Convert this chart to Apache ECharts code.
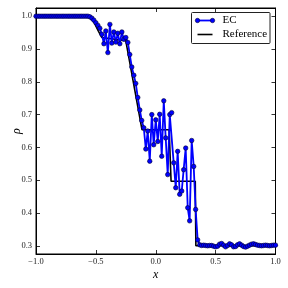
<!DOCTYPE html>
<html>
<head>
<meta charset="utf-8">
<script src="https://cdn.jsdelivr.net/npm/echarts@6/dist/echarts.min.js"></script>
<style>html,body{margin:0;padding:0;background:#fff}#c{width:288px;height:288px}</style>
</head>
<body>
<div id="c"></div>
<script>
var ecX = [-1.000,-0.983,-0.967,-0.950,-0.933,-0.917,-0.900,-0.883,-0.867,-0.850,
-0.833,-0.817,-0.800,-0.783,-0.767,-0.750,-0.733,-0.717,-0.700,-0.683,
-0.667,-0.650,-0.633,-0.617,-0.600,-0.583,-0.567,-0.550,-0.533,-0.517,
-0.500,-0.483,-0.467,-0.450,-0.433,-0.417,-0.400,-0.383,-0.367,-0.350,
-0.333,-0.317,-0.300,-0.283,-0.267,-0.250,-0.233,-0.217,-0.200,-0.183,
-0.167,-0.150,-0.133,-0.117,-0.100,-0.083,-0.067,-0.050,-0.033,-0.017,
0.000,0.017,0.033,0.050,0.067,0.083,0.100,0.117,0.133,0.150,
0.167,0.183,0.200,0.217,0.233,0.250,0.267,0.283,0.300,0.317,
0.333,0.350,0.367,0.383,0.400,0.417,0.433,0.450,0.467,0.483,
0.500,0.517,0.533,0.550,0.567,0.583,0.600,0.617,0.633,0.650,
0.667,0.683,0.700,0.717,0.733,0.750,0.767,0.783,0.800,0.817,
0.833,0.850,0.867,0.883,0.900,0.917,0.933,0.950,0.967,0.983,1.000];
var ecRho = [1.000,1.000,1.000,1.000,1.000,1.000,1.000,1.000,1.000,1.000,
1.000,1.000,1.000,1.000,1.000,1.000,1.000,1.000,1.000,1.000,
1.000,1.000,1.000,1.000,1.000,1.000,1.000,0.998,0.994,0.988,
0.980,0.972,0.963,0.945,0.916,0.955,0.889,0.975,0.918,0.952,
0.921,0.948,0.916,0.952,0.930,0.935,0.920,0.883,0.845,0.820,
0.795,0.752,0.714,0.682,0.660,0.595,0.650,0.558,0.700,0.608,
0.684,0.618,0.701,0.573,0.742,0.629,0.517,0.700,0.706,0.553,
0.477,0.588,0.457,0.467,0.532,0.598,0.416,0.376,0.621,0.542,
0.411,0.318,0.303,0.301,0.302,0.301,0.300,0.301,0.301,0.299,
0.297,0.299,0.305,0.307,0.302,0.297,0.301,0.306,0.303,0.297,
0.298,0.303,0.306,0.302,0.298,0.296,0.299,0.302,0.305,0.306,
0.304,0.302,0.301,0.300,0.301,0.302,0.301,0.300,0.301,0.302,0.302];
var refX = [-1.0,-0.56,-0.52,-0.48,-0.45,-0.25,-0.115,0.112,0.128,0.33,0.335,1.0];
var refRho = [1.0,1.0,0.985,0.955,0.935,0.925,0.654,0.654,0.497,0.497,0.30,0.30];
var xTicks = [-1.0,-0.5,0.0,0.5,1.0];
var yTicks = [0.3,0.4,0.5,0.6,0.7,0.8,0.9,1.0];

function zip(a,b){var o=[];for(var i=0;i<a.length;i++)o.push([a[i],b[i]]);return o;}
var serif = 'Liberation Serif';
var chart = echarts.init(document.getElementById('c'), null, {renderer:'canvas'});
var fmtX = function(v){ return (v<0?'\u2212':'') + Math.abs(v).toFixed(1); };
var tickStyle = {show:true,inside:true,length:4,lineStyle:{color:'#000',width:0.8}};
var lineStyleAx = {show:true,onZero:false,lineStyle:{color:'#000',width:1}};
chart.setOption({
  animation:false,
  grid:{left:36,right:12.5,top:8,bottom:34,containLabel:false,outerBoundsMode:'none',show:true,borderColor:'#000',borderWidth:1,backgroundColor:'transparent'},
  xAxis:[{
    type:'value',min:-1,max:1,interval:0.5,
    name:'x',nameLocation:'middle',nameGap:15,nameMoveOverlap:false,
    nameTextStyle:{fontFamily:serif,fontStyle:'italic',fontSize:12,color:'#000'},
    axisLine:lineStyleAx,
    axisTick:tickStyle,
    axisLabel:{formatter:fmtX,fontFamily:serif,fontSize:8.5,color:'#222',margin:3},
    splitLine:{show:false}
  },{
    type:'value',min:-1,max:1,interval:0.5,position:'top',
    axisLine:lineStyleAx,axisTick:tickStyle,
    axisLabel:{show:false},splitLine:{show:false}
  }],
  yAxis:[{
    type:'value',min:0.275,max:1.025,
    name:'\u03c1',nameLocation:'middle',nameGap:13,nameRotate:90,nameMoveOverlap:false,
    nameTextStyle:{fontFamily:serif,fontStyle:'italic',fontSize:12,color:'#000'},
    axisLine:lineStyleAx,
    axisTick:{show:true,inside:true,length:4,customValues:yTicks,lineStyle:{color:'#000',width:0.8}},
    axisLabel:{customValues:yTicks,formatter:function(v){return v.toFixed(1);},fontFamily:serif,fontSize:8.5,color:'#222',margin:4},
    splitLine:{show:false}
  },{
    type:'value',min:0.275,max:1.025,position:'right',
    axisLine:lineStyleAx,
    axisTick:{show:true,inside:true,length:4,customValues:yTicks,lineStyle:{color:'#000',width:0.8}},
    axisLabel:{show:false},splitLine:{show:false}
  }],
  series:[{
    name:'Reference',type:'line',data:zip(refX,refRho),
    symbol:'none',lineStyle:{color:'#000',width:1.6},z:2
  },{
    name:'EC',type:'line',data:zip(ecX,ecRho),
    symbol:'circle',symbolSize:4.5,showSymbol:true,showAllSymbol:true,
    lineStyle:{color:'#0000ff',width:1.8},
    itemStyle:{color:'#0000ff',borderColor:'#000033',borderWidth:0.6},
    z:3
  }],
  graphic:[
    {type:'rect',shape:{x:191.5,y:12.5,width:78.5,height:31,r:1},style:{fill:'#fff',stroke:'#222',lineWidth:1},z:10},
    {type:'line',shape:{x1:197.5,y1:20.5,x2:212.5,y2:20.5},style:{stroke:'#0000ff',lineWidth:1.8},z:11},
    {type:'circle',shape:{cx:197.5,cy:20.5,r:2.2},style:{fill:'#0000ff',stroke:'#000033',lineWidth:0.6},z:12},
    {type:'circle',shape:{cx:212.5,cy:20.5,r:2.2},style:{fill:'#0000ff',stroke:'#000033',lineWidth:0.6},z:12},
    {type:'text',x:222.5,y:20.5,style:{text:'EC',font:'11px "Liberation Serif"',fill:'#000',textVerticalAlign:'middle',verticalAlign:'middle'},z:12},
    {type:'line',shape:{x1:197.5,y1:34.5,x2:212.5,y2:34.5},style:{stroke:'#000',lineWidth:1.6},z:11},
    {type:'text',x:222.5,y:34.5,style:{text:'Reference',font:'11px "Liberation Serif"',fill:'#000',textVerticalAlign:'middle',verticalAlign:'middle'},z:12}
  ]
});
</script>
</body>
</html>
